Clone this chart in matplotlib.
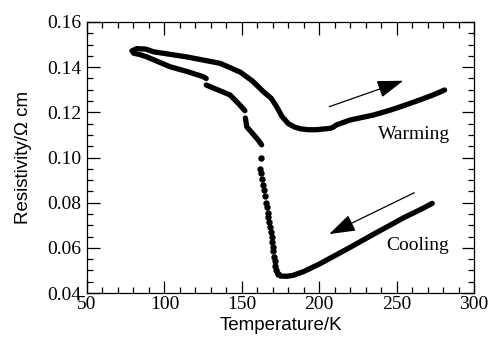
import numpy as np
import matplotlib
matplotlib.use("Agg")
import matplotlib.pyplot as plt
from matplotlib.ticker import MultipleLocator, FormatStrFormatter

# Warming branch
warm_T = [79, 82, 88, 93, 114, 136, 149, 157, 164, 169, 172.5, 176, 180, 184, 188,
          193, 198, 207, 209, 211, 220, 235, 246, 256, 265, 274, 281]
warm_R = [0.1472, 0.1482, 0.1480, 0.1468, 0.1446, 0.1417, 0.1378, 0.1338, 0.1291,
          0.1262, 0.1225, 0.1181, 0.1150, 0.1135, 0.1127, 0.1123, 0.1123, 0.1129,
          0.1134, 0.1144, 0.1166, 0.1188, 0.1210, 0.1233, 0.1255, 0.1278, 0.1299]

# Cooling branch, continuous pieces
cool_a_T = [80, 84, 88.5, 103.6, 115, 125, 127]
cool_a_R = [0.1462, 0.1456, 0.1446, 0.1402, 0.1380, 0.1358, 0.1350]
cool_b_T = [127, 135, 142.4, 148.8, 152]
cool_b_R = [0.1321, 0.1298, 0.1277, 0.1232, 0.1207]
cool_c_T = [152.3, 153.2, 157, 160.6, 162.8]
cool_c_R = [0.1175, 0.1136, 0.1106, 0.1077, 0.1056]
cool_d_T = [173, 175, 179, 183, 190, 200, 210, 222, 235, 246, 255, 265, 273]
cool_d_R = [0.0490, 0.0475, 0.0474, 0.0478, 0.0495, 0.0528, 0.0565, 0.0610,
            0.0660, 0.0701, 0.0735, 0.0768, 0.0797]

# Cooling branch, the sparse points across the transition
dots_T = [162.4, 161.9, 162.3, 163.0, 163.6, 164.2, 164.8, 165.7, 166.4, 166.8,
          167.2, 167.7, 168.2, 168.7, 169.3, 169.7, 170.1, 170.4, 170.8, 171.2,
          171.6, 172.2, 173.3]
dots_R = [0.0996, 0.0950, 0.0930, 0.0905, 0.0880, 0.0855, 0.0830, 0.0800, 0.0780,
          0.0755, 0.0735, 0.0715, 0.0694, 0.0672, 0.0650, 0.0628, 0.0605, 0.0585,
          0.0560, 0.0540, 0.0520, 0.0500, 0.0485]

serif = "Liberation Serif"
sans = "Liberation Sans"

fig = plt.figure(figsize=(4.93, 3.40), dpi=100)
ax = fig.add_axes([0.1765, 0.1382, 0.785, 0.7971])

lw = 3.8
ax.plot(warm_T, warm_R, color="black", lw=lw, solid_capstyle="round",
        solid_joinstyle="round")
for t, r in [(cool_a_T, cool_a_R), (cool_b_T, cool_b_R),
             (cool_c_T, cool_c_R), (cool_d_T, cool_d_R)]:
    ax.plot(t, r, color="black", lw=lw, solid_capstyle="round",
            solid_joinstyle="round")
ax.plot(dots_T, dots_R, "o", color="black", ms=4.6, mec="none")

# direction arrows
arrow = dict(arrowstyle="-|>,head_length=0.9,head_width=0.3", color="black",
             lw=0.9, mutation_scale=18, shrinkA=0, shrinkB=0)
ax.annotate("", xy=(254.3, 0.1340), xytext=(206.5, 0.1225), arrowprops=arrow)
ax.annotate("", xy=(206.5, 0.0661), xytext=(261.4, 0.0844), arrowprops=arrow)

ax.text(238, 0.1082, "Warming", family=serif, fontsize=14, va="baseline")
ax.text(243.4, 0.0590, "Cooling", family=serif, fontsize=14, va="baseline")

ax.set_xlim(50, 300)
ax.set_ylim(0.04, 0.16)
ax.xaxis.set_major_locator(MultipleLocator(50))
ax.xaxis.set_minor_locator(MultipleLocator(10))
ax.yaxis.set_major_locator(MultipleLocator(0.02))
ax.yaxis.set_minor_locator(MultipleLocator(0.005))
ax.yaxis.set_major_formatter(FormatStrFormatter("%.2f"))
ax.tick_params(which="both", direction="in", top=True, right=True, width=0.9)
ax.tick_params(which="major", length=9)
ax.tick_params(which="minor", length=4.5)
ax.tick_params(axis="x", pad=2)
ax.tick_params(axis="y", pad=4)
for lab in ax.get_xticklabels() + ax.get_yticklabels():
    lab.set_family(serif)
    lab.set_fontsize(14)
for s in ax.spines.values():
    s.set_linewidth(0.9)

ax.set_xlabel("Temperature/K", family=sans, fontsize=13.5, labelpad=3)
ax.set_ylabel("Resistivity/\u03a9 cm", family=sans, fontsize=13.5, labelpad=11)

fig.savefig("out.png", dpi=100)
